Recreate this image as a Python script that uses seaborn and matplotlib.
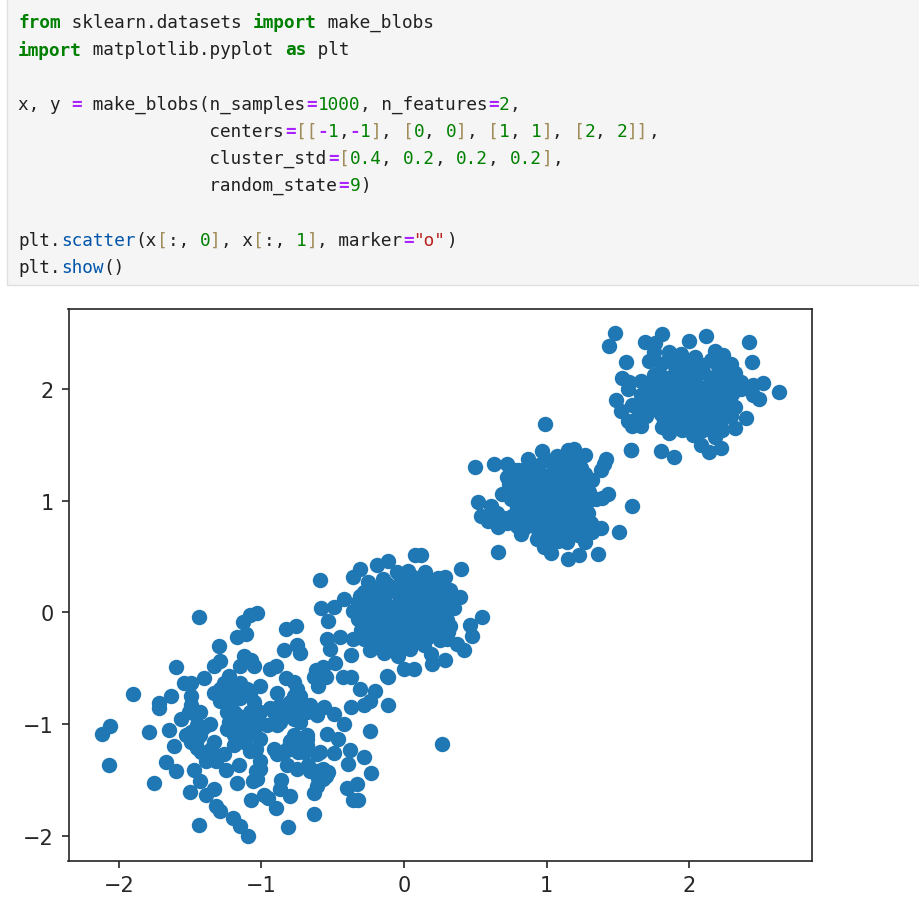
import matplotlib
matplotlib.use("Agg")
import matplotlib.pyplot as plt
from matplotlib.patches import Rectangle
import pandas as pd
import seaborn as sns

# ---- data (x, y) ----
blob_a = [
(-1.44,-0.04),(-1.03,-0.01),(-1.08,-0.02),(-1.13,-0.09),(-1.11,-0.19),(-1.17,-0.22),(-1.30,-0.30),
(-0.76,-0.12),(-0.83,-0.15),(-0.75,-0.29),(-0.73,-0.36),(-0.84,-0.34),(-1.12,-0.39),(-1.29,-0.44),
(-1.33,-0.48),(-1.60,-0.49),(-1.15,-0.48),(-1.07,-0.43),(-1.05,-0.48),(-0.90,-0.48),(-0.94,-0.51),
(-1.40,-0.59),(-1.54,-0.63),(-1.49,-0.63),(-1.23,-0.57),(-0.83,-0.59),(-0.77,-0.62),(-0.57,-0.49),
(-0.62,-0.52),(-0.63,-0.58),(-0.55,-0.58),(-0.60,-0.66),(-0.43,-0.58),(-0.37,-0.58),(-0.31,-0.69),
(-0.20,-0.70),(-0.11,-0.58),(-0.24,-0.79),(-0.28,-0.83),(-0.37,-0.85),(-0.11,-0.83),(0.27,-1.18),
(-0.24,-1.06),(-0.42,-1.00),(-0.54,-1.09),(-0.46,-1.13),(-0.38,-1.23),(-0.49,-1.26),(-0.28,-1.29),
(-0.39,-1.36),(-0.23,-1.44),(-0.33,-1.54),(-0.40,-1.57),(-0.36,-1.68),(-0.32,-1.68),(-0.63,-1.80),
(-0.81,-1.92),(-0.63,-1.62),(-0.80,-1.64),(-0.87,-1.58),(-0.86,-1.50),(-0.90,-1.75),(-0.95,-1.66),
(-0.98,-1.63),(-1.07,-1.68),(-1.09,-2.00),(-1.15,-1.91),(-1.20,-1.84),(-1.29,-1.78),(-1.32,-1.73),
(-1.44,-1.90),(-1.33,-1.58),(-1.39,-1.63),(-1.50,-1.61),(-1.75,-1.53),(-2.07,-1.37),(-2.12,-1.09),
(-2.06,-1.02),(-1.90,-0.73),(-1.72,-0.81),(-1.72,-0.86),(-1.63,-0.75),(-1.79,-1.07),(-1.65,-1.05),
(-1.56,-0.95),(-1.53,-1.10),(-1.61,-1.20),(-1.67,-1.34),(-1.60,-1.42),(-1.47,-1.41),(-1.43,-1.51),
(-1.17,-1.53),(-1.06,-1.51),(-1.03,-1.49),(-1.16,-1.37),(-1.25,-1.41),(-1.39,-1.33),(-1.32,-1.33),
(-1.26,-1.27),(-1.33,-1.16),(-1.45,-1.21),(-1.49,-1.16),(-1.01,-1.33),(-1.04,-1.42),(-0.89,-1.27),
(-0.82,-1.22),(-0.82,-1.37),(-0.75,-1.40),(-0.67,-1.37),(-0.61,-1.27),(-0.59,-1.25),(-0.61,-1.42),
(-0.53,-1.43),(-0.57,-1.49),(-0.61,-1.55),(-0.68,-1.10),(-0.73,-1.19),(-0.77,-1.10),(-0.68,-1.19),
(-0.74,-1.25),(-1.19,-0.89),(-1.15,-0.98),(-1.19,-1.10),(-1.12,-1.16),(-1.08,-1.24),(-1.01,-1.13),
(-1.05,-1.06),(-0.96,-1.01),(-0.89,-1.01),(-0.94,-0.86),(-0.82,-0.89),(-0.77,-0.95),(-0.73,-0.75),
(-0.66,-0.83),(-0.56,-0.85),(-0.49,-0.91),(-0.61,-0.92),(-0.80,-0.80),(-0.89,-0.72),(-1.01,-0.66),
(-1.10,-0.69),(-1.19,-0.66),(-1.29,-0.69),(-1.29,-0.79),(-1.22,-0.83),(-1.15,-0.77),(-1.49,-0.75),
(-1.49,-0.83),(-1.43,-0.89),(-1.45,-1.01),(-1.36,-1.00),(-1.43,-1.10),(-1.01,-0.89),(-1.08,-0.89),
(-1.23,-0.98),(-1.19,-1.19),(-0.80,-1.15),
(-1.26,-0.63),(-1.22,-0.73),(-1.15,-0.63),(-1.08,-0.73),(-1.33,-0.72),(-1.26,-0.75),(-1.05,-0.80),
(-1.24,-0.89),(-1.17,-0.92),(-1.24,-1.04),(-1.15,-1.07),(-1.08,-1.10),(-1.17,-1.16),(-1.04,-1.22),
(-1.10,-1.01),(-1.03,-0.98),(-1.51,-0.89),(-1.46,-0.92),(-1.40,-1.03),(-1.49,-1.07),(-1.45,-1.13),
(-0.91,-0.89),(-0.87,-0.83),(-0.87,-0.98),(-0.73,-0.86),(-0.75,-0.80),(-0.68,-0.89),(-0.73,-0.98),
(-0.77,-0.75),(-0.75,-0.69),(-0.75,-1.16),(-0.80,-1.22),(-0.68,-1.13),(-0.70,-1.25),(-0.60,-1.48),
(-0.55,-1.46),(-0.57,-1.40),(-0.66,-1.42),(-1.42,-1.25),(-1.35,-1.22),(-1.01,-1.40),(-0.84,-1.25),
(-0.91,-1.22),
]
blob_b = [
(-0.59,0.29),(-0.58,0.04),(-0.49,0.05),(-0.42,0.12),(-0.53,-0.08),(-0.36,0.32),(-0.31,0.39),
(-0.19,0.42),(-0.11,0.46),(0.08,0.51),(0.12,0.51),(0.40,0.39),(0.29,0.32),(0.24,0.31),(0.15,0.36),
(0.03,0.37),(-0.05,0.36),(0.39,0.14),(0.35,0.04),(0.55,-0.04),(0.46,-0.11),(0.48,-0.21),(0.42,-0.34),
(0.37,-0.28),(0.29,-0.43),(0.20,-0.46),(0.19,-0.37),(0.14,-0.29),(0.25,-0.25),(0.30,-0.24),(0.32,-0.12),
(0.07,-0.51),(0.00,-0.51),(-0.12,-0.57),(-0.04,-0.39),(0.04,-0.33),(-0.14,-0.36),(-0.24,-0.34),
(-0.37,-0.38),(-0.45,-0.22),(-0.54,-0.24),(-0.52,-0.33),(-0.48,-0.45),(-0.36,-0.24),(-0.29,-0.12),
(-0.36,0.01),(-0.25,0.27),(-0.15,0.30),(-0.28,0.18),(-0.18,0.17),(-0.08,0.22),(0.02,0.27),(0.10,0.24),
(0.20,0.22),(0.28,0.14),(-0.24,0.07),(-0.14,0.08),(-0.03,0.12),(0.06,0.15),(0.16,0.11),(0.25,0.05),
(-0.27,-0.03),(-0.17,-0.02),(-0.07,0.03),(0.03,0.05),(0.12,0.01),(0.22,-0.04),(0.30,-0.07),(-0.23,-0.13),
(-0.13,-0.11),(-0.03,-0.07),(0.07,-0.05),(0.17,-0.11),(0.26,-0.15),(-0.24,-0.25),(-0.15,-0.22),
(-0.05,-0.18),(0.04,-0.16),(0.12,-0.20),(-0.19,-0.31),(-0.08,-0.30),(0.01,-0.26),(0.33,0.10),(-0.32,0.09),
(-0.22,0.22),(-0.12,0.25),(-0.02,0.31),(0.06,0.32),(0.15,0.29),(0.24,0.22),(0.32,0.20),(-0.31,0.15),
(-0.23,0.13),(-0.13,0.15),(-0.04,0.18),(0.05,0.20),(0.14,0.17),(0.23,0.13),(0.31,0.07),(-0.30,0.04),
(-0.20,0.03),(-0.10,0.05),(0.00,0.08),(0.09,0.09),(0.19,0.05),(0.28,0.00),(-0.32,-0.06),(-0.22,-0.07),
(-0.12,-0.05),(-0.01,-0.02),(0.08,-0.01),(0.17,-0.03),(0.27,-0.09),(-0.30,-0.16),(-0.19,-0.15),
(-0.08,-0.13),(0.02,-0.11),(0.12,-0.12),(0.22,-0.17),(0.31,-0.18),(-0.28,-0.24),(-0.19,-0.23),(-0.10,-0.25),
(0.00,-0.21),(0.08,-0.24),(0.17,-0.22),(-0.14,-0.30),(-0.03,-0.31),
]
blob_c = [
(0.99,1.68),(0.50,1.30),(0.63,1.33),(0.72,1.33),(0.77,1.27),(0.72,1.21),(0.87,1.37),(0.97,1.44),
(1.07,1.40),(1.15,1.45),(1.19,1.46),(1.27,1.41),(1.42,1.37),(1.40,1.33),(1.38,1.27),(1.32,1.18),
(1.59,1.45),(1.43,1.06),(1.39,1.02),(1.35,1.01),(1.60,0.95),(1.29,0.89),(1.38,0.75),(1.32,0.72),
(1.51,0.72),(1.27,0.63),(1.36,0.52),(1.23,0.51),(1.15,0.48),(1.03,0.53),(1.14,0.63),(0.98,0.58),
(0.93,0.66),(0.82,0.70),(0.66,0.54),(0.66,0.76),(0.72,0.80),(0.59,0.82),(0.54,0.86),(0.52,0.99),
(0.61,0.95),(0.65,0.89),(0.69,1.06),(0.75,1.01),(0.79,0.77),(0.85,1.28),(0.95,1.32),(1.05,1.31),
(1.15,1.33),(1.24,1.29),(0.80,1.17),(0.90,1.20),(1.00,1.22),(1.10,1.21),(1.20,1.20),(1.28,1.14),
(0.83,1.08),(0.93,1.10),(1.03,1.12),(1.13,1.10),(1.23,1.08),(1.29,1.00),(0.82,0.98),(0.92,1.00),
(1.02,1.02),(1.12,1.00),(1.21,0.98),(0.85,0.88),(0.95,0.90),(1.05,0.92),(1.15,0.90),(1.24,0.86),
(0.88,0.78),(0.98,0.80),(1.08,0.82),(1.18,0.80),(1.27,0.76),(0.95,0.71),(1.05,0.72),(1.15,0.71),
(1.22,0.69),(1.00,0.63),(1.08,0.64),
(0.80,1.27),(0.90,1.30),(1.00,1.36),(1.10,1.35),(1.20,1.36),(1.27,1.24),(0.74,1.15),(0.84,1.22),
(0.94,1.26),(1.05,1.26),(1.15,1.26),(1.25,1.22),(0.77,1.10),(0.87,1.14),(0.98,1.16),(1.08,1.16),
(1.18,1.15),(1.30,1.08),(0.78,1.03),(0.87,1.05),(0.97,1.06),(1.07,1.07),(1.18,1.05),(1.27,1.04),
(0.79,0.93),(0.88,0.95),(0.98,0.96),(1.08,0.97),(1.17,0.96),(1.27,0.93),(0.81,0.84),(0.90,0.85),
(1.00,0.86),(1.10,0.87),(1.20,0.84),(1.31,0.80),(0.84,0.75),(0.93,0.75),(1.03,0.77),(1.12,0.77),
(1.22,0.76),(1.02,0.68),(1.10,0.68),(1.19,0.72),(0.70,0.84),(0.76,0.86),(0.63,0.85),
]
blob_d = [
(1.48,2.50),(1.44,2.38),(1.56,2.24),(1.69,2.42),(1.81,2.49),(1.76,2.41),(2.00,2.43),(2.12,2.47),
(2.42,2.42),(2.44,2.24),(1.53,2.10),(1.58,2.06),(1.57,2.00),(1.49,1.90),(1.52,1.80),(1.57,1.71),
(1.60,1.67),(1.66,1.67),(1.70,1.76),(1.60,1.85),(1.66,1.94),(1.72,2.25),(1.75,2.33),(1.86,2.33),
(1.94,2.31),(2.04,2.28),(2.18,2.34),(2.24,2.30),(2.29,2.22),(2.36,2.06),(2.36,2.00),(2.45,2.03),
(2.52,2.05),(2.45,1.94),(2.49,1.91),(2.63,1.97),(2.29,1.86),(2.29,1.76),(2.40,1.74),(2.32,1.65),
(2.23,1.63),(2.18,1.57),(2.08,1.50),(2.14,1.43),(2.22,1.47),(2.03,1.59),(1.86,1.60),(1.81,1.66),
(1.80,1.44),(1.89,1.39),(1.59,1.45),(1.80,2.22),(1.90,2.20),(2.00,2.18),(2.10,2.21),(2.20,2.20),
(1.75,2.12),(1.85,2.10),(1.95,2.08),(2.05,2.11),(2.15,2.10),(2.25,2.11),(2.32,2.14),(1.70,2.02),
(1.80,2.00),(1.90,1.98),(2.00,2.00),(2.10,2.01),(2.20,1.99),(2.28,2.00),(1.72,1.92),(1.82,1.90),
(1.92,1.88),(2.02,1.91),(2.12,1.90),(2.22,1.89),(2.30,1.95),(1.76,1.82),(1.86,1.80),(1.96,1.78),
(2.06,1.81),(2.16,1.80),(2.25,1.80),(1.82,1.72),(1.92,1.70),(2.02,1.71),(2.12,1.70),(2.22,1.71),
(1.95,1.63),(2.08,1.62),(2.15,1.63),
(1.85,2.26),(1.95,2.24),(2.05,2.23),(2.15,2.26),(2.25,2.24),(2.18,2.28),(1.79,2.14),(1.90,2.14),
(2.00,2.13),(2.10,2.15),(2.20,2.14),(2.29,2.08),(1.66,2.07),(1.75,2.05),(1.85,2.04),(1.95,2.03),
(2.05,2.05),(2.15,2.05),(2.24,2.05),(1.76,1.96),(1.86,1.94),(1.96,1.93),(2.06,1.95),(2.16,1.95),
(2.26,1.93),(1.67,1.85),(1.79,1.85),(1.89,1.84),(1.99,1.84),(2.09,1.85),(2.19,1.85),(2.32,1.84),
(1.71,1.82),(1.80,1.77),(1.90,1.75),(2.00,1.75),(2.10,1.75),(2.20,1.75),(1.88,1.66),(1.98,1.65),
(2.10,1.65),(2.20,1.66),(1.63,1.73),(1.65,1.80),(1.67,1.90),
]
x_ticks = [-2, -1, 0, 1, 2]
y_ticks = [-2, -1, 0, 1, 2]

# ---- notebook cell shown above the plot ----
code_lines = [
    [("from","k"),(" sklearn.datasets ","n"),("import","k"),(" make_blobs","n")],
    [("import","k"),(" matplotlib.pyplot ","n"),("as","k"),(" plt","n")],
    [],
    [("x, y ","n"),("=","o"),(" make_blobs(n_samples","n"),("=","o"),("1000","d"),(", n_features","n"),("=","o"),("2","d"),(",","n")],
    [(" "*18+"centers","n"),("=","o"),("[[","b"),("-","o"),("1","d"),(",","n"),("-","o"),("1","d"),("]","b"),(", ","n"),("[","b"),("0","d"),(", ","n"),("0","d"),("]","b"),(", ","n"),("[","b"),("1","d"),(", ","n"),("1","d"),("]","b"),(", ","n"),("[","b"),("2","d"),(", ","n"),("2","d"),("]]","b"),(",","n")],
    [(" "*18+"cluster_std","n"),("=","o"),("[","b"),("0.4","d"),(", ","n"),("0.2","d"),(", ","n"),("0.2","d"),(", ","n"),("0.2","d"),("]","b"),(",","n")],
    [(" "*18+"random_state","n"),("=","o"),("9","d"),(")","n")],
    [],
    [("plt.","n"),("scatter","f"),("(x","n"),("[","b"),(":, ","n"),("0","d"),("]","b"),(", x","n"),("[","b"),(":, ","n"),("1","d"),("]","b"),(", marker","n"),("=","o"),('"o"',"s"),(")","n")],
    [("plt.","n"),("show","f"),("()","n")],
]
token_colours = {"k":"#008000","n":"#212121","o":"#aa22ff","d":"#008000","b":"#a08c5a","f":"#0055aa","s":"#ba2121"}
bold_tokens = {"k","o"}

W, H = 919, 904
sns.set_style("white")
plt.rcParams.update({
    "font.family": ["DejaVu Sans"],
    "axes.edgecolor": "black",
    "text.color": "black",
    "xtick.color": "#262626",
    "ytick.color": "#262626",
})
fig = plt.figure(figsize=(W/100, H/100), dpi=100, facecolor="white")

# cell background
fig.add_artist(Rectangle((7/W, 1-285.5/H), 1, 285.5/H+0.01, transform=fig.transFigure,
                         facecolor="#f5f5f5", edgecolor="#e0e0e0", linewidth=1))
char_w = 10.69
for i, line in enumerate(code_lines):
    col = 0
    for tok, kind in line:
        fig.text((18+col*char_w)/W, 1-(21+i*27.2)/H, tok, family="DejaVu Sans Mono", fontsize=12.8,
                 color=token_colours[kind], fontweight="bold" if kind in bold_tokens else "normal",
                 va="center_baseline", ha="left")
        col += len(tok)

ax = fig.add_axes([68.5/W, 1-861.5/H, 743.5/W, 551.5/H])
df = pd.DataFrame(blob_a+blob_b+blob_c+blob_d, columns=["x","y"])
sns.scatterplot(data=df, x="x", y="y", ax=ax, marker="o", s=92, color="#1f77b4",
                edgecolor="#1f77b4", linewidth=1.5, legend=False)
ax.set_xlim(-2.352, 2.861)
ax.set_ylim(-2.22, 2.713)
ax.set_xticks(x_ticks)
ax.set_yticks(y_ticks)
ax.set_xlabel("")
ax.set_ylabel("")
ax.tick_params(axis="both", length=5.25, width=1.2, labelsize=15, pad=5.25, bottom=True, left=True)
for s in ax.spines.values():
    s.set_linewidth(1.2)
    s.set_color("#262626")
fig.savefig("out.png", dpi=100)
